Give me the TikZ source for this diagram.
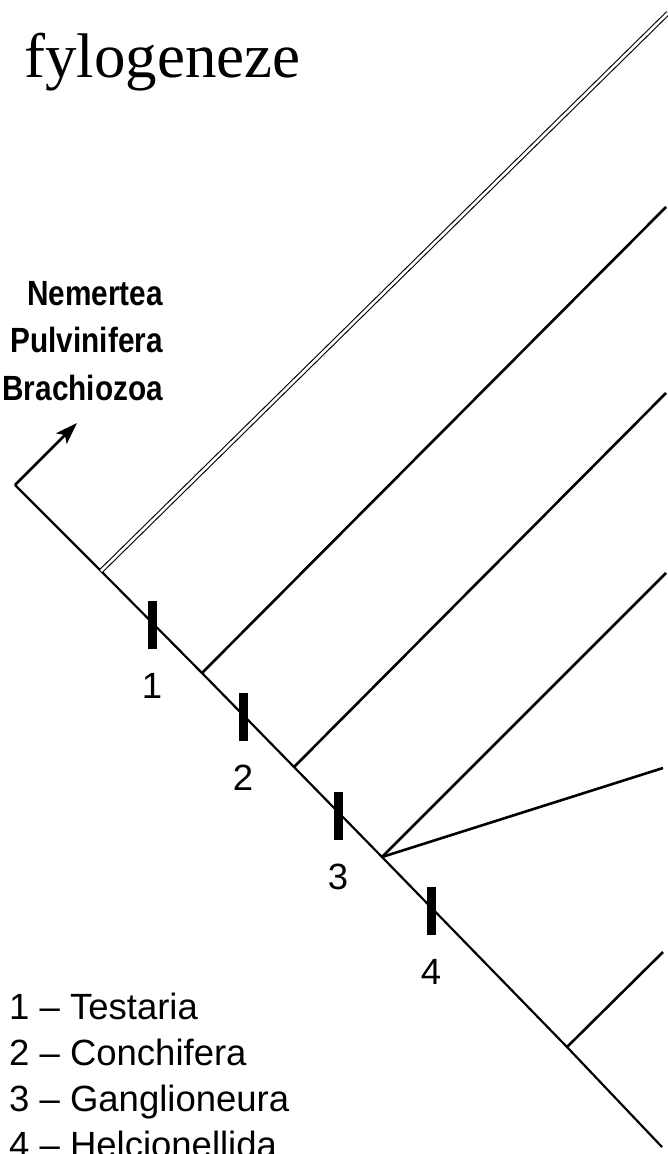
\documentclass[tikz,border=0pt]{standalone}
\usepackage{fontspec}
\setmainfont{Liberation Serif}
\setsansfont{Liberation Sans}
\newfontfamily\condbold[FakeStretch=0.85]{Liberation Sans Bold}
\usetikzlibrary{arrows.meta,positioning}
\tikzset{
  every picture/.style={line cap=butt, line join=miter},
  title/.style={font=\fontsize{63}{63}\selectfont, inner sep=0pt},
  stem/.style={draw=black, line width=2.2pt},
  clade/.style={draw=black, line width=2.6pt},
  stemclade/.style={draw=black, double=white, line width=1.1pt, double distance=2.6pt},
  outarrow/.style={stem, line width=2.6pt, -{Stealth[length=22pt, width=15pt, inset=5pt]}},
  outgroup/.style={font=\condbold\fontsize{35}{47.5}\selectfont, align=right, inner sep=0pt},
  tickbar/.style={fill=black, inner sep=0pt, minimum width=9pt, minimum height=48pt},
  ticklabel/.style={font=\sffamily\fontsize{36.5}{36.5}\selectfont, inner sep=0pt},
  legend/.style={font=\sffamily\fontsize{36.5}{46}\selectfont, align=left, inner sep=0pt},
}
\begin{document}
\begin{tikzpicture}[x=1pt,y=-1pt]
  \useasboundingbox (0,0) rectangle (668,1154);
  \node[title, anchor=base west] (head) at (24,77) {fylogeneze};

  % main stem
  \coordinate (root) at (15,485);
  \coordinate (b1) at (101,571);
  \coordinate (b2) at (202,673);
  \coordinate (b3) at (294,767);
  \coordinate (b4) at (382,857);
  \coordinate (b5) at (567,1047);
  \coordinate (tip) at (662,1147);
  \draw[stem] (root) -- (b1) -- (b2) -- (b3) -- (b4) -- (b5) -- (tip);

  % outgroups
  \coordinate (up) at (77,423);
  \draw[outarrow] (root) -- (up);
  \node[outgroup, anchor=base east] (outg) at (163,400) {Nemertea\\Pulvinifera\\Brachiozoa};

  % clades
  \coordinate (e1) at (668,13);
  \coordinate (e2) at (666,207);
  \coordinate (e3) at (666,393);
  \coordinate (e4) at (666,573);
  \coordinate (e5) at (663,768);
  \coordinate (e6) at (663,952);
  \draw[stemclade] (b1) -- (e1);
  \foreach \a/\b in {b2/e2, b3/e3, b4/e4, b4/e5, b5/e6} \draw[clade] (\a) -- (\b);

  % apomorphies
  \foreach \n/\x/\y in {1/152/625, 2/243/717, 3/338/816, 4/431/911} {
    \node[tickbar] (m\n) at (\x,\y) {};
    \node[ticklabel, below=24pt of m\n] (l\n) {\n};
  }

  \node[legend, anchor=base west] (key) at (9,1157)
    {1 -- Testaria\\2 -- Conchifera\\3 -- Ganglioneura\\4 -- Helcionellida};
\end{tikzpicture}
\end{document}
